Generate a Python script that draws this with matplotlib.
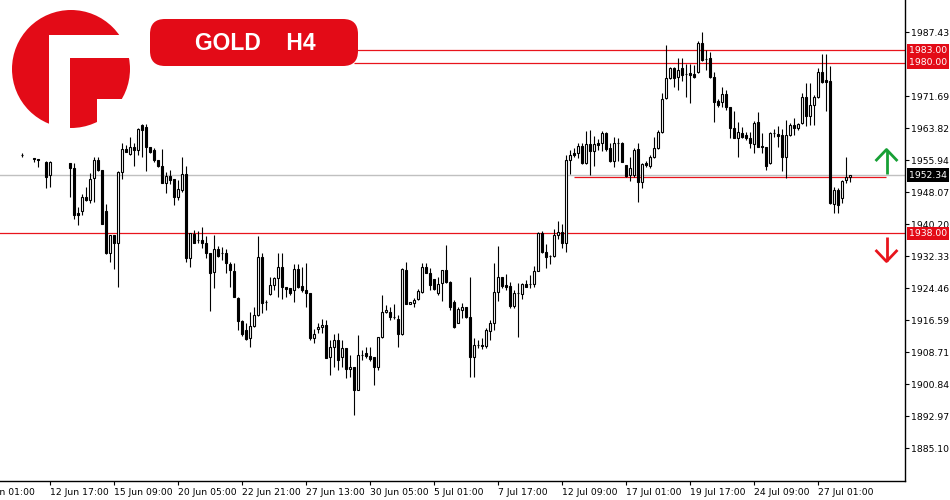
import numpy as np
import matplotlib
matplotlib.use('Agg')
import matplotlib.pyplot as plt
from matplotlib.patches import Circle, Rectangle, FancyBboxPatch

# GOLD H4 candles, one per 4 hours (None = no candle drawn)
opens = [1957.3, None, None, 1956.5, 1956.3, None, 1955.6, 1952.4, None, None,
         None, None, 1955.3, 1954.1, 1943.0, 1943.5, 1946.9, 1946.2, 1951.6, 1956.0,
         1953.6, 1943.5, 1933.2, 1937.6, 1935.6, 1953.1, 1958.8, 1957.5, 1959.2, 1958.5,
         1964.7, 1964.2, 1959.2, 1958.5, 1956.0, 1954.6, 1950.4, 1952.1, 1951.4, 1946.9,
         1948.7, 1952.6, 1931.9, 1937.8, 1936.4, 1936.4, 1935.6, 1933.2, 1928.5, 1934.1,
         1933.2, 1933.2, 1930.5, 1928.7, 1922.1, 1916.4, 1914.2, 1912.3, 1915.2, 1917.9,
         1932.2, 1921.1, 1923.1, 1925.3, 1927.0, 1929.7, 1924.8, 1924.6, 1924.1, 1929.2,
         1925.0, 1924.1, 1923.3, 1912.3, 1914.5, 1915.0, 1915.5, 1907.6, 1910.0, 1911.8,
         1907.6, 1909.8, 1904.6, 1905.1, 1899.5, 1908.1, 1908.6, 1907.8, 1907.6, 1905.1,
         1912.5, 1918.7, 1918.7, 1917.4, 1916.9, 1913.2, 1929.0, 1920.6, 1920.9, 1921.8,
         1923.6, 1929.7, 1928.2, 1926.8, 1923.3, 1925.8, 1929.0, 1926.0, 1921.1, 1915.9,
         1919.1, 1919.9, 1917.4, 1907.6, 1910.5, 1910.5, 1910.3, 1914.0, 1915.9, 1923.6,
         1927.3, 1925.3, 1925.0, 1920.1, 1923.3, 1923.1, 1925.5, 1925.5, 1925.5, 1928.7,
         1938.1, 1933.4, 1932.4, 1932.4, 1937.6, 1938.3, 1935.6, 1956.0, 1957.8, 1957.8,
         1959.5, 1955.3, 1960.0, 1958.3, 1960.2, 1960.2, 1962.7, 1959.0, 1955.8, 1960.2,
         1960.2, 1954.8, 1952.4, 1952.4, 1958.8, 1950.6, 1955.3, 1954.6, 1956.8, 1959.0,
         1962.9, 1971.3, 1976.2, 1978.7, 1976.5, 1978.7, 1977.2, 1977.4, 1977.2, 1977.7,
         1984.8, 1980.9, 1981.1, 1976.5, 1970.6, 1970.3, 1972.3, 1969.1, 1963.9, 1961.5,
         1962.7, 1962.2, 1961.5, 1960.0, 1965.4, 1959.5, 1959.2, 1955.3, 1962.7, 1962.4,
         1962.2, 1956.8, 1962.2, 1964.7, 1963.9, 1965.1, 1971.5, 1966.9, 1969.6, 1971.5,
         1977.7, 1975.7, 1975.5, 1945.2, 1948.7, 1946.7, 1951.1, 1951.9]

highs = [1957.8, None, None, 1956.5, 1956.3, None, 1955.8, 1955.8, None, None,
         None, None, 1955.3, 1955.3, 1944.5, 1947.7, 1949.4, 1952.8, 1956.8, 1956.8,
         1953.6, 1945.2, 1937.6, 1937.6, 1953.3, 1960.2, 1959.7, 1961.7, 1960.2, 1963.9,
         1964.9, 1964.9, 1959.2, 1959.0, 1956.0, 1958.8, 1953.1, 1953.6, 1951.4, 1951.1,
         1956.8, 1954.6, 1938.1, 1938.8, 1938.6, 1939.6, 1937.3, 1933.2, 1937.6, 1934.9,
         1934.6, 1934.1, 1931.0, 1930.7, 1922.3, 1916.7, 1915.9, 1918.7, 1919.9, 1937.3,
         1933.2, 1921.6, 1927.3, 1927.3, 1933.2, 1933.2, 1924.8, 1924.6, 1930.5, 1930.5,
         1929.7, 1930.7, 1923.3, 1914.5, 1915.9, 1916.9, 1916.7, 1911.8, 1913.2, 1913.5,
         1911.8, 1909.8, 1908.1, 1905.1, 1913.0, 1909.3, 1910.0, 1910.0, 1907.6, 1912.5,
         1922.8, 1920.4, 1919.9, 1920.6, 1917.9, 1929.5, 1931.0, 1921.1, 1922.1, 1924.3,
         1930.7, 1930.7, 1929.5, 1926.8, 1927.3, 1929.0, 1935.1, 1926.3, 1921.6, 1919.9,
         1920.9, 1919.9, 1927.3, 1912.3, 1911.8, 1912.3, 1914.7, 1916.7, 1930.7, 1934.9,
         1927.3, 1928.0, 1926.0, 1924.1, 1925.8, 1925.8, 1926.5, 1927.8, 1930.0, 1938.3,
         1938.6, 1935.4, 1932.7, 1939.1, 1941.0, 1940.3, 1957.3, 1958.5, 1959.0, 1960.2,
         1960.2, 1963.2, 1963.4, 1962.0, 1961.2, 1963.2, 1962.9, 1960.2, 1961.7, 1961.5,
         1960.5, 1954.8, 1956.8, 1959.0, 1960.2, 1955.3, 1955.8, 1957.3, 1961.7, 1963.4,
         1972.5, 1984.3, 1978.9, 1978.9, 1981.1, 1981.1, 1979.7, 1979.7, 1979.4, 1985.3,
         1987.5, 1983.1, 1982.6, 1977.7, 1971.1, 1974.0, 1973.3, 1969.1, 1968.1, 1965.4,
         1964.2, 1962.9, 1962.9, 1965.6, 1967.8, 1962.7, 1959.2, 1962.9, 1963.7, 1964.4,
         1963.7, 1965.9, 1965.1, 1966.4, 1965.1, 1972.5, 1975.0, 1975.0, 1972.0, 1978.7,
         1982.1, 1982.1, 1979.2, 1949.4, 1949.2, 1951.1, 1956.8, 1952.4]

lows = [1956.8, None, None, 1955.6, 1954.3, None, 1949.2, 1949.4, None, None,
        None, None, 1946.9, 1941.5, 1940.1, 1942.5, 1946.0, 1945.5, 1945.7, 1953.3,
        1940.3, 1932.9, 1931.0, 1929.2, 1924.8, 1951.4, 1958.0, 1957.3, 1954.6, 1957.3,
        1956.8, 1953.3, 1957.8, 1955.6, 1954.3, 1950.4, 1947.9, 1950.1, 1945.0, 1946.2,
        1948.2, 1931.0, 1929.7, 1935.6, 1935.6, 1934.4, 1931.9, 1918.9, 1924.6, 1932.2,
        1931.4, 1928.2, 1924.8, 1922.3, 1914.2, 1912.7, 1911.8, 1910.0, 1915.0, 1917.7,
        1918.4, 1919.1, 1922.8, 1924.1, 1922.3, 1921.9, 1922.3, 1922.8, 1921.1, 1924.6,
        1923.6, 1919.9, 1911.8, 1911.0, 1913.5, 1913.5, 1907.3, 1903.2, 1905.1, 1904.4,
        1905.1, 1902.4, 1902.7, 1893.3, 1899.5, 1906.8, 1907.3, 1906.6, 1900.7, 1904.4,
        1912.3, 1918.4, 1916.7, 1916.9, 1910.0, 1913.0, 1920.6, 1920.6, 1919.9, 1921.6,
        1923.3, 1928.2, 1924.1, 1924.1, 1922.8, 1921.4, 1925.8, 1919.1, 1914.7, 1915.9,
        1917.2, 1917.2, 1902.7, 1902.7, 1909.8, 1909.5, 1909.8, 1911.8, 1914.2, 1921.4,
        1924.6, 1924.1, 1919.6, 1919.6, 1912.5, 1921.9, 1924.8, 1924.6, 1924.8, 1928.7,
        1933.2, 1929.5, 1930.5, 1932.2, 1936.6, 1934.4, 1933.4, 1952.6, 1956.8, 1956.5,
        1955.1, 1955.1, 1952.4, 1954.6, 1958.5, 1958.3, 1958.3, 1955.6, 1954.3, 1955.8,
        1955.6, 1951.9, 1950.9, 1951.9, 1945.7, 1949.2, 1954.3, 1954.1, 1956.5, 1958.8,
        1962.7, 1971.1, 1976.0, 1974.0, 1973.3, 1975.5, 1971.5, 1970.1, 1976.2, 1977.4,
        1980.4, 1978.2, 1976.2, 1965.4, 1969.1, 1969.1, 1968.3, 1961.5, 1961.5, 1956.8,
        1961.5, 1961.0, 1959.0, 1957.8, 1959.2, 1957.8, 1953.6, 1955.1, 1961.7, 1959.2,
        1953.3, 1951.6, 1962.0, 1962.2, 1963.4, 1964.9, 1964.4, 1964.7, 1964.7, 1971.3,
        1975.0, 1968.1, 1945.2, 1943.0, 1943.0, 1945.5, 1950.4, 1950.6]

closes = [1957.3, None, None, 1956.2, 1956.0, None, 1951.9, 1955.6, None, None,
          None, None, 1954.1, 1942.5, 1942.5, 1946.9, 1946.2, 1951.4, 1956.0, 1953.6,
          1940.3, 1933.2, 1937.6, 1935.6, 1953.1, 1958.8, 1958.0, 1959.2, 1958.5, 1963.7,
          1963.4, 1959.2, 1958.0, 1956.0, 1954.6, 1950.4, 1952.1, 1951.1, 1946.9, 1948.9,
          1952.6, 1931.9, 1938.1, 1935.6, 1936.4, 1935.6, 1933.2, 1928.2, 1934.1, 1932.4,
          1933.2, 1930.7, 1929.0, 1922.3, 1916.4, 1913.2, 1912.0, 1915.2, 1917.9, 1932.2,
          1920.9, 1921.1, 1925.3, 1927.0, 1929.7, 1924.8, 1924.3, 1923.3, 1929.2, 1924.8,
          1924.1, 1923.3, 1912.3, 1913.2, 1915.0, 1915.5, 1907.3, 1910.0, 1911.8, 1906.8,
          1909.8, 1904.6, 1905.1, 1899.5, 1908.1, 1908.1, 1907.8, 1907.1, 1905.1, 1912.5,
          1918.7, 1919.1, 1917.4, 1917.4, 1913.2, 1929.2, 1920.6, 1921.1, 1921.6, 1923.8,
          1929.7, 1928.2, 1925.3, 1924.3, 1925.5, 1929.0, 1926.0, 1919.9, 1915.0, 1919.4,
          1919.9, 1917.4, 1907.6, 1910.5, 1910.5, 1910.3, 1914.2, 1915.9, 1923.6, 1927.3,
          1925.0, 1924.8, 1920.1, 1923.3, 1923.3, 1925.5, 1924.8, 1925.5, 1928.7, 1938.1,
          1933.4, 1932.2, 1932.4, 1937.6, 1938.3, 1935.6, 1956.0, 1957.3, 1957.3, 1959.5,
          1955.3, 1960.0, 1958.3, 1960.0, 1959.7, 1962.7, 1958.8, 1955.8, 1960.2, 1960.2,
          1955.6, 1952.1, 1954.1, 1958.5, 1950.6, 1955.1, 1954.8, 1956.8, 1959.0, 1962.9,
          1971.1, 1976.2, 1978.7, 1976.2, 1978.2, 1976.9, 1977.2, 1976.9, 1976.5, 1984.8,
          1980.6, 1980.9, 1976.5, 1970.3, 1969.6, 1972.3, 1969.1, 1963.9, 1961.5, 1962.9,
          1961.7, 1961.5, 1960.2, 1965.1, 1959.2, 1959.2, 1954.6, 1962.7, 1962.7, 1962.0,
          1956.8, 1962.2, 1964.7, 1963.9, 1964.9, 1971.5, 1966.9, 1969.6, 1971.5, 1977.7,
          1975.2, 1975.2, 1945.5, 1948.7, 1945.0, 1950.9, 1951.9, 1952.34]

time_ticks = [7, 23, 39, 55, 71, 87, 103, 119, 135, 151, 167, 183, 199]
time_labels = ['12 Jun 17:00', '15 Jun 09:00', '20 Jun 05:00', '22 Jun 21:00',
               '27 Jun 13:00', '30 Jun 05:00', '5 Jul 01:00', '7 Jul 17:00',
               '12 Jul 09:00', '17 Jul 01:00', '19 Jul 17:00', '24 Jul 09:00',
               '27 Jul 01:00']
# 1979.56 sits under the 1980.00 tag in the original, so it is left out
price_ticks = [1885.10, 1892.97, 1900.84, 1908.71, 1916.59, 1924.46, 1932.33,
               1940.20, 1948.07, 1955.94, 1963.82, 1971.69, 1987.43]

resistance = [1983.00, 1980.00]
support = 1938.00
bid = 1952.34
mid_level = 1951.85

RED = '#e30b17'
LINE_RED = '#e8141c'
GREEN = '#17a035'

n = min(len(opens), len(highs), len(lows), len(closes))
o = np.array(opens[:n], dtype=float)
h = np.array(highs[:n], dtype=float)
l = np.array(lows[:n], dtype=float)
c = np.array(closes[:n], dtype=float)
idx = np.arange(n)
ok = ~np.isnan(o)
up = ok & (c > o)
dn = ok & (c <= o)

fig = plt.figure(figsize=(9.5, 5), dpi=100)
fig.patch.set_facecolor('white')
ax = fig.add_axes([0, 19 / 500, 905 / 950, 481 / 500])

ax.axhline(bid, color='#c0c0c0', lw=1, zorder=1)
ax.axhline(support, color=LINE_RED, lw=0.9, zorder=1)
ax.hlines(resistance, 83, 221, color=LINE_RED, lw=0.9, zorder=1)
ax.hlines(mid_level, 138, 216, color=LINE_RED, lw=0.9, zorder=1)

ax.vlines(idx[ok], l[ok], h[ok], color='black', lw=0.8, zorder=3)
ax.bar(idx[up], c[up] - o[up], bottom=o[up], width=0.48,
       facecolor='white', edgecolor='black', lw=0.8, zorder=4)
ax.bar(idx[dn], c[dn] - o[dn], bottom=o[dn], width=0.48,
       facecolor='black', edgecolor='black', lw=0.8, zorder=4)

ax.set_xlim(-5.5, 220.75)
ax.set_ylim(1877.07, 1995.4)

for s in ['left', 'top']:
    ax.spines[s].set_visible(False)
for s in ['right', 'bottom']:
    ax.spines[s].set_color('black')
    ax.spines[s].set_linewidth(1)

ax.yaxis.tick_right()
ax.set_yticks(price_ticks, ['%.2f' % p for p in price_ticks])
ax.set_xticks(time_ticks, time_labels)
ax.tick_params(axis='y', direction='out', length=3, width=0.8, pad=1.5,
               labelsize=6.7, colors='black')
ax.tick_params(axis='x', direction='out', length=3, width=0.8, pad=2,
               labelsize=6.7, colors='black')
for t in ax.get_xticklabels():
    t.set_ha('left')
ax.annotate('9 Jun 01:00', xy=(-10, 0), xycoords=('data', 'axes fraction'),
            xytext=(0, -5), textcoords='offset points', ha='left', va='top',
            fontsize=6.7, annotation_clip=False)

# price tags on the right scale
tr = ax.get_yaxis_transform()
for p in resistance + [support]:
    ax.text(1.004, p, '%.2f' % p, transform=tr, ha='left', va='center',
            fontsize=6.7, color='white', clip_on=False, zorder=6,
            bbox=dict(boxstyle='square,pad=0.22', fc=RED, ec='none'))
ax.text(1.004, bid, '%.2f' % bid, transform=tr, ha='left', va='center',
        fontsize=6.7, color='white', clip_on=False, zorder=6,
        bbox=dict(boxstyle='square,pad=0.22', fc='black', ec='none'))

# overlay: logo, title, arrows
ov = fig.add_axes([0, 0, 1, 1])
ov.set_xlim(0, 950)
ov.set_ylim(500, 0)
ov.axis('off')
ov.patch.set_alpha(0)

ov.add_patch(Circle((71, 69), 59, color=RED, lw=0))
ov.add_patch(Rectangle((49, 35), 21, 100, color='white', lw=0))
ov.add_patch(Rectangle((49, 35), 86, 23, color='white', lw=0))
ov.add_patch(Rectangle((97, 99), 40, 36, color='white', lw=0))

ov.add_patch(FancyBboxPatch((150, 19), 208, 47,
                            boxstyle='round,pad=0,rounding_size=15',
                            fc=RED, ec='none'))
ov.text(255, 43, 'GOLD    H4', color='white', fontsize=16.5, fontweight='bold',
        ha='center', va='center', family='Liberation Sans')

ov.plot([886.5, 886.5], [174, 150], color=GREEN, lw=2, solid_capstyle='butt')
ov.plot([876.5, 886.5, 896.5], [160, 149.5, 160], color=GREEN, lw=2)
ov.plot([886.5, 886.5], [237, 261], color=LINE_RED, lw=2, solid_capstyle='butt')
ov.plot([876.5, 886.5, 896.5], [251, 261.5, 251], color=LINE_RED, lw=2)

fig.savefig('out.png', dpi=100, facecolor='white')
